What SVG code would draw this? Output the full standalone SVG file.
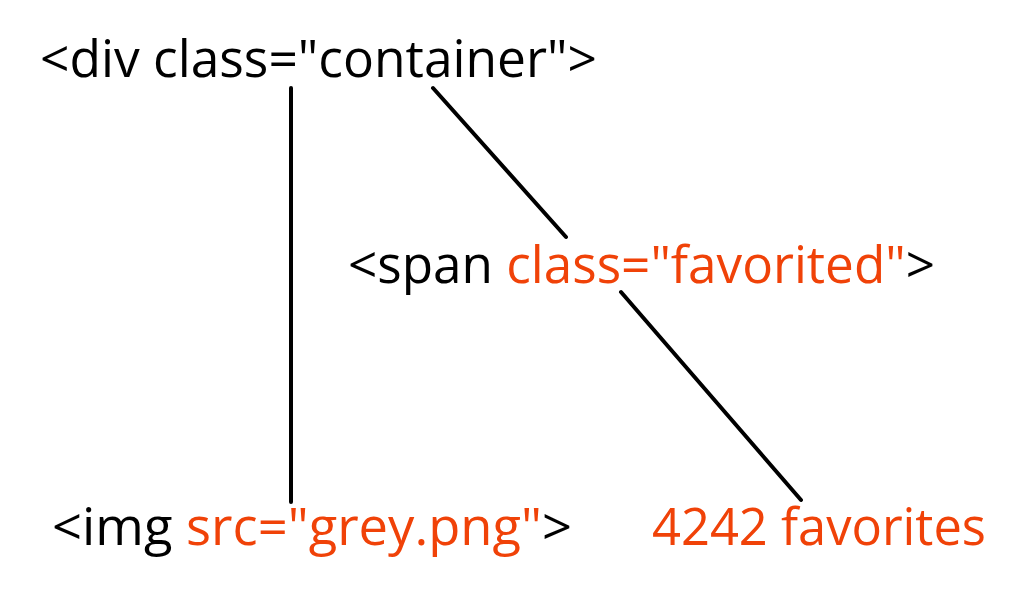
<svg xmlns="http://www.w3.org/2000/svg" width="1016" height="594" viewBox="0 0 1016 594">
<style>
.t{font-family:"Open Sans","DejaVu Sans",sans-serif;font-size:51px;fill:#000}
.o{fill:#F04208}
.c{stroke:#000;stroke-width:4;stroke-linecap:round;fill:none}
</style>
<rect width="1016" height="594" fill="#fff"/>
<g id="connectors">
<line class="c" x1="291" y1="88" x2="291" y2="502"/>
<line class="c" x1="433" y1="88" x2="566" y2="237"/>
<line class="c" x1="621" y1="292" x2="801" y2="500"/>
</g>
<g id="div"><text class="t" x="40" y="77" textLength="557" lengthAdjust="spacingAndGlyphs">&lt;div class="container"&gt;</text></g>
<g id="span"><text class="t" x="348" y="283" textLength="587" lengthAdjust="spacingAndGlyphs">&lt;span <tspan class="o">class="favorited"</tspan>&gt;</text></g>
<g id="img"><text class="t" x="52" y="545" textLength="520" lengthAdjust="spacingAndGlyphs">&lt;img <tspan class="o">src="grey.png"</tspan>&gt;</text></g>
<g id="count"><text class="t o" x="652" y="545" textLength="334" lengthAdjust="spacingAndGlyphs">4242 favorites</text></g>
</svg>
